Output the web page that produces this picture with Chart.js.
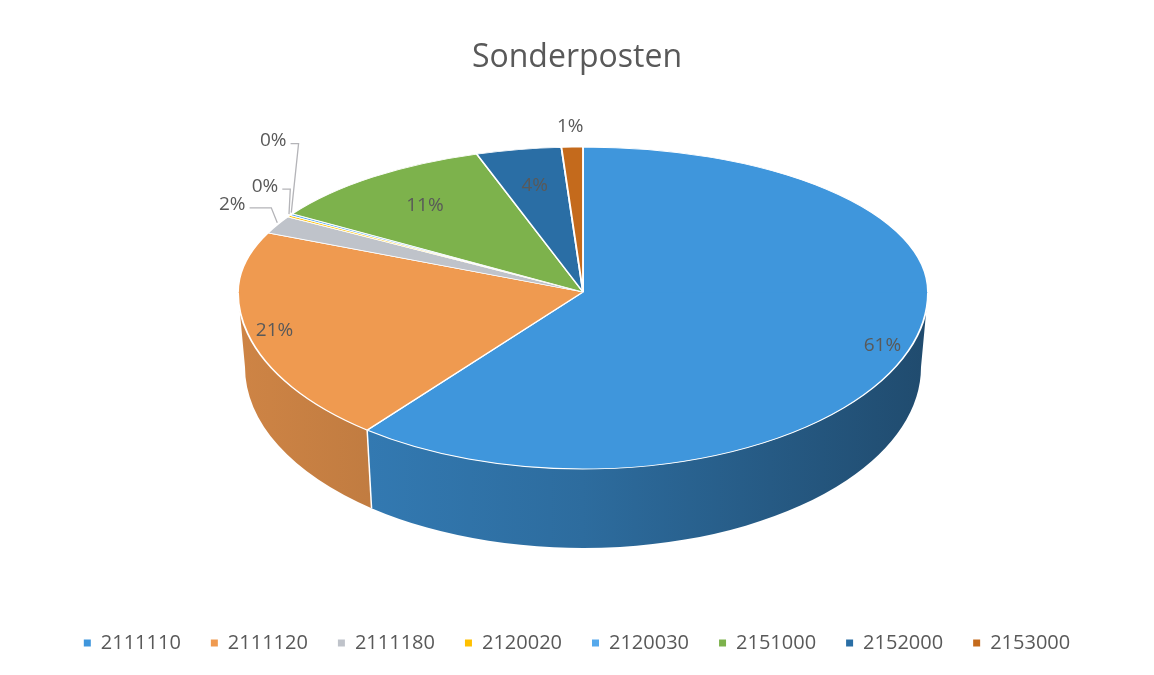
<!DOCTYPE html>
<html>
<head>
<meta charset="utf-8">
<script src="https://cdn.jsdelivr.net/npm/chart.js@4.4.0/dist/chart.umd.min.js"></script>
<style>
  html, body { margin: 0; padding: 0; background: #fff; overflow: hidden; }
  #wrap { position: relative; width: 1154px; height: 675px; }
</style>
</head>
<body>
<div id="wrap"><canvas id="pie"></canvas></div>
<script>
// data (shares in %)
const labels = ['2111110', '2111120', '2111180', '2120020', '2120030', '2151000', '2152000', '2153000'];
const shares = [61, 21, 2, 0.2, 0.2, 11, 4, 1];
const colors = ['#3f96dc', '#ef9a50', '#bfc3ca', '#ffc000', '#56a9ec', '#7db24c', '#2a6ea5', '#c46a1c'];

// 3d look: top face is two half ellipses around the apex, plus a side wall
const G = { cx: 583, cy: 292, rx: 345, ryTop: 145, ryBot: 177, depth: 75, rx2: 338, ry2: 181 };
// label offsets from the rim for the small outside slices
const outsideOffsets = { 2: [-45, -20], 3: [-24, -30], 4: [-18, -74], 7: [-2, -20] };

function shade(hex, k) {
    const n = parseInt(hex.slice(1), 16);
    const r = Math.round(((n >> 16) & 255) * k);
    const g = Math.round(((n >> 8) & 255) * k);
    const b = Math.round((n & 255) * k);
    return `rgb(${r},${g},${b})`;
}

function faceTransform(ctx, arc, ry) {
    const r = arc.outerRadius;
    ctx.translate(G.cx, G.cy);
    ctx.scale(G.rx / r, ry / r);
    ctx.translate(-arc.x, -arc.y);
}

function facePoint(theta, f) {
    const s = Math.sin(theta);
    return {
        x: G.cx + f * G.rx * Math.cos(theta),
        y: G.cy + f * (s > 0 ? G.ryBot : G.ryTop) * s
    };
}

const pie3d = {
    id: 'pie3d',
    beforeDatasetsDraw(chart) {
        const ctx = chart.ctx;
        const arcs = chart.getDatasetMeta(0).data;

        // side wall
        arcs.forEach((arc, i) => {
            const a0 = Math.max(arc.startAngle, 0);
            const a1 = Math.min(arc.endAngle, Math.PI);
            if (a1 <= a0) return;
            const grad = ctx.createLinearGradient(G.cx - G.rx, 0, G.cx + G.rx, 0);
            grad.addColorStop(0, shade(colors[i], 0.86));
            grad.addColorStop(0.5, shade(colors[i], 0.72));
            grad.addColorStop(1, shade(colors[i], 0.5));
            ctx.beginPath();
            ctx.ellipse(G.cx, G.cy, G.rx, G.ryBot, 0, a0, a1);
            ctx.ellipse(G.cx, G.cy + G.depth, G.rx2, G.ry2, 0, a1, a0, true);
            ctx.closePath();
            ctx.fillStyle = grad;
            ctx.fill();
        });
        arcs.forEach(arc => {
            const a = arc.startAngle;
            if (a <= 0 || a >= Math.PI) return;
            ctx.beginPath();
            ctx.moveTo(G.cx + G.rx * Math.cos(a), G.cy + G.ryBot * Math.sin(a));
            ctx.lineTo(G.cx + G.rx2 * Math.cos(a), G.cy + G.depth + G.ry2 * Math.sin(a));
            ctx.strokeStyle = '#ffffff';
            ctx.lineWidth = 1.5;
            ctx.stroke();
        });

        // top face, front half then back half
        ctx.save();
        ctx.beginPath();
        ctx.rect(0, G.cy, chart.width, chart.height);
        ctx.clip();
        faceTransform(ctx, arcs[0], G.ryBot);
        arcs.forEach(a => a.draw(ctx, chart.chartArea));
        ctx.restore();

        ctx.save();
        ctx.beginPath();
        ctx.rect(0, 0, chart.width, G.cy + 0.5);
        ctx.clip();
        faceTransform(ctx, arcs[0], G.ryTop);
        arcs.forEach(a => a.draw(ctx, chart.chartArea));
        ctx.restore();

        // percentage labels
        const total = shares.reduce((s, v) => s + v, 0);
        ctx.save();
        ctx.font = '19px "Open Sans"';
        ctx.fillStyle = '#595959';
        ctx.textAlign = 'center';
        ctx.textBaseline = 'middle';
        arcs.forEach((arc, i) => {
            const pct = Math.round(shares[i] / total * 100);
            const mid = (arc.startAngle + arc.endAngle) / 2;
            const txt = pct + '%';
            if (outsideOffsets[i]) {
                const anchor = facePoint(mid, 1);
                const off = outsideOffsets[i];
                const lx = anchor.x + off[0], ly = anchor.y + off[1];
                ctx.fillText(txt, lx, ly);
                if (i !== 7) {
                    const w = ctx.measureText(txt).width;
                    const sx = lx + w / 2 + 4;
                    ctx.beginPath();
                    ctx.moveTo(sx, ly + 3);
                    ctx.lineTo(Math.max(sx + 8, anchor.x - 6), ly + 3);
                    ctx.lineTo(anchor.x, anchor.y - 2);
                    ctx.strokeStyle = '#b4b4b8';
                    ctx.lineWidth = 1.3;
                    ctx.stroke();
                }
            } else {
                const f = pct >= 15 ? 0.92 : 0.75;
                const p = facePoint(mid, f);
                ctx.fillText(txt, p.x, p.y);
            }
        });
        ctx.restore();
        return false;
    }
};

new Chart(document.getElementById('pie').getContext('2d'), {
    type: 'pie',
    data: {
        labels: labels,
        datasets: [{
            data: shares,
            backgroundColor: colors,
            borderColor: '#ffffff',
            borderWidth: 1.4,
            clip: false
        }]
    },
    options: {
        responsive: true,
        maintainAspectRatio: false,
        animation: false,
        events: [],
        layout: { padding: { bottom: 12 } },
        plugins: {
            title: {
                display: true,
                text: 'Sonderposten',
                color: '#595959',
                font: { family: 'Open Sans', size: 32, weight: 'normal' },
                padding: { top: 39, bottom: 10 }
            },
            legend: {
                position: 'bottom',
                labels: {
                    color: '#595959',
                    font: { family: 'Open Sans', size: 20 },
                    boxWidth: 7,
                    boxHeight: 7,
                    padding: 30,
                    generateLabels: chart => Chart.overrides.pie.plugins.legend.labels.generateLabels(chart)
                        .map(l => ({ ...l, lineWidth: 0 }))
                }
            },
            tooltip: { enabled: false }
        }
    },
    plugins: [pie3d]
});
</script>
</body>
</html>
